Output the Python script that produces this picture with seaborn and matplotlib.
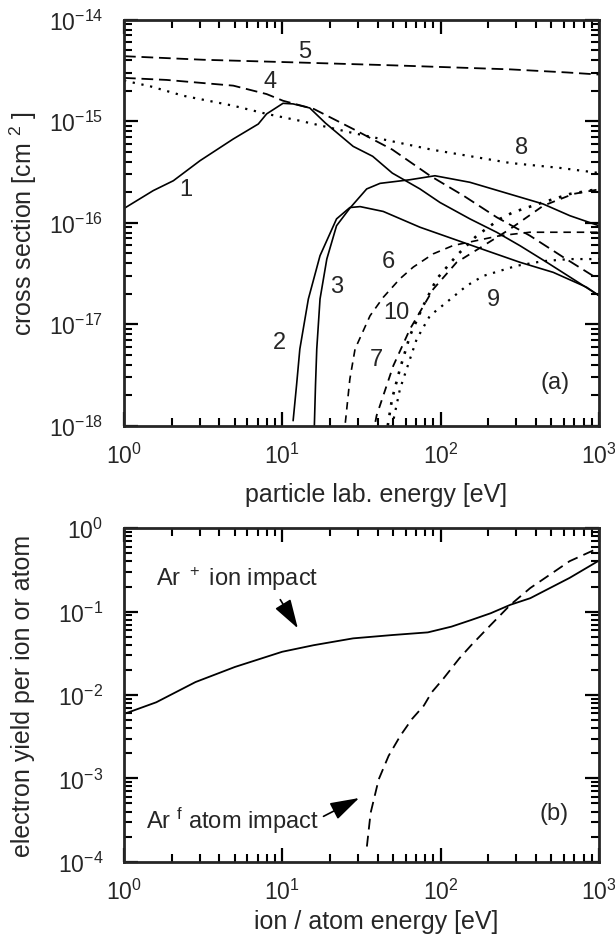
import matplotlib
matplotlib.use("Agg")
import matplotlib.pyplot as plt
import seaborn as sns
import numpy as np
from matplotlib.ticker import LogLocator, LogFormatterSciNotation, NullFormatter

# ---------------- data: panel (a) cross sections [cm^2] vs lab energy [eV]
e1 = [1.0, 1.53, 2.05, 3.02, 4.90, 7.05, 7.96, 10.1, 11.7, 14.9, 18.7, 28.0, 37.2, 49.5,
      74.0, 99.1, 153, 226, 317, 468, 796, 1000]
s1 = [1.38e-16, 2.07e-16, 2.59e-16, 4.08e-16, 6.68e-16, 9.38e-16, 1.18e-15, 1.50e-15,
      1.48e-15, 1.35e-15, 9.6e-16, 5.65e-16, 4.51e-16, 3.08e-16, 2.15e-16, 1.58e-16,
      1.09e-16, 8.04e-17, 5.93e-17, 4.07e-17, 2.40e-17, 1.91e-17]

e2 = [11.7, 12.3, 12.9, 14.6, 17.3, 22.0, 26.7, 31.0, 43.4, 74.0, 120, 195, 317, 514, 836, 1000]
s2 = [1.12e-18, 2.51e-18, 5.69e-18, 1.77e-17, 4.73e-17, 1.09e-16, 1.41e-16, 1.44e-16,
      1.29e-16, 9.02e-17, 6.92e-17, 5.30e-17, 4.07e-17, 3.24e-17, 2.31e-17, 1.91e-17]

e3 = [15.9, 16.2, 16.5, 17.3, 19.1, 22.0, 26.7, 34.1, 41.4, 64.0, 92.0, 153, 248, 443, 656, 1000]
s3 = [8.9e-19, 2.51e-18, 5.70e-18, 1.77e-17, 4.39e-17, 9.33e-17, 1.39e-16, 2.15e-16,
      2.44e-16, 2.65e-16, 2.90e-16, 2.50e-16, 2.00e-16, 1.53e-16, 1.17e-16, 9.33e-17]

e4 = [1, 1.86, 4.90, 7.96, 10.1, 12.6, 15.8, 28.0, 49.5, 85.7, 139, 226, 366, 596, 1000]
s4 = [2.67e-15, 2.55e-15, 2.24e-15, 1.85e-15, 1.59e-15, 1.45e-15, 1.32e-15, 8.38e-16,
      5.25e-16, 2.90e-16, 1.85e-16, 1.13e-16, 7.45e-17, 4.56e-17, 2.75e-17]

e5 = [1, 3.16, 11.7, 50.1, 275, 631, 1000]
s5 = [4.37e-15, 4.03e-15, 3.80e-15, 3.55e-15, 3.24e-15, 3.02e-15, 2.88e-15]

e6 = [24.5, 26.7, 28.8, 35.8, 43.4, 55.3, 67.1, 89.7, 120, 237, 366, 1000]
s6 = [7.9e-19, 2.88e-18, 5.70e-18, 1.21e-17, 1.84e-17, 2.80e-17, 3.65e-17, 4.93e-17,
      5.96e-17, 7.45e-17, 8.05e-17, 8.05e-17]

e7 = [37.2, 39.4, 50.2, 64.0, 89.9, 126, 186, 274, 445, 689, 1000]
s7 = [7.9e-19, 1.26e-18, 3.89e-18, 8.95e-18, 2.22e-17, 4.06e-17, 5.92e-17, 8.65e-17,
      1.47e-16, 1.92e-16, 2.13e-16]

e8 = [1, 1.46, 2.37, 4.90, 7.96, 12.9, 28.0, 87.9, 276, 562, 1000]
s8 = [2.51e-15, 2.21e-15, 1.78e-15, 1.42e-15, 1.18e-15, 1.01e-15, 7.64e-16, 5.24e-16,
      3.87e-16, 3.47e-16, 3.09e-16]

e9 = [47.9, 55.3, 70.5, 85.5, 115, 146, 186, 302, 445, 656, 1000]
s9 = [7.9e-19, 2.29e-18, 7.11e-18, 1.21e-17, 1.76e-17, 2.39e-17, 2.99e-17, 3.76e-17,
      4.18e-17, 4.38e-17, 4.38e-17]

e10 = [45.2, 49.3, 55.3, 64.0, 77.6, 94.4, 126, 169, 237, 288, 445, 656, 1000]
s10 = [7.9e-19, 1.83e-18, 3.62e-18, 7.71e-18, 1.52e-17, 2.79e-17, 4.73e-17, 7.45e-17,
       1.09e-16, 1.27e-16, 1.59e-16, 1.92e-16, 2.15e-16]

curve_labels = ["1", "2", "3", "4", "5", "6", "7", "8", "9", "10"]

# ---------------- data: panel (b) electron yield
e_ion = [1, 1.60, 2.83, 5.02, 9.98, 15.8, 28.0, 49.5, 83.0, 117, 156, 207, 276, 368, 490, 652, 1000]
y_ion = [5.92e-3, 8.18e-3, 1.43e-2, 2.17e-2, 3.30e-2, 3.96e-2, 4.78e-2, 5.24e-2, 5.64e-2,
         6.61e-2, 7.94e-2, 9.57e-2, 0.121, 0.145, 0.192, 0.254, 0.41]
e_atom = [34.2, 36.1, 40.6, 46.9, 55.6, 65.9, 78.3, 87.9, 104, 131, 156, 207, 276, 368, 490, 652, 1000]
y_atom = [1.52e-4, 3.84e-4, 9.70e-4, 1.86e-3, 3.24e-3, 5.15e-3, 7.46e-3, 1.08e-2, 1.57e-2,
          2.74e-2, 3.96e-2, 6.92e-2, 0.121, 0.192, 0.278, 0.403, 0.583]

ion_label = "Ar $^+$ ion impact"
atom_label = "Ar $^{\\mathrm{f}}$ atom impact"

# ---------------- style
sns.set_style("ticks")
plt.rcParams["font.family"] = ["Liberation Sans", "DejaVu Sans"]
plt.rcParams["mathtext.fontset"] = "custom"
plt.rcParams["mathtext.rm"] = "Liberation Sans"
plt.rcParams["mathtext.it"] = "Liberation Sans:italic"
plt.rcParams["mathtext.bf"] = "Liberation Sans:bold"
plt.rcParams["axes.unicode_minus"] = False

TICK_FS = 16.5
LAB_FS = 18
TXT_FS = 17

fig = plt.figure(figsize=(6.15, 9.45), dpi=100)
ax_a = fig.add_axes([0.2016, 0.5485, 0.7724, 0.4296])
ax_b = fig.add_axes([0.2016, 0.0871, 0.7724, 0.3528])

solid = "-"
dash_long = (0, (6.5, 3.2))
dash_med = (0, (4.5, 3.5))
dot = (0, (1.0, 3.0))

series_a = [
    (e1, s1, solid, 1.2),
    (e2, s2, solid, 1.2),
    (e3, s3, solid, 1.2),
    (e4, s4, dash_long, 1.3),
    (e5, s5, dash_long, 1.3),
    (e6, s6, dash_med, 1.2),
    (e7, s7, dash_med, 1.3),
    (e8, s8, dot, 1.6),
    (e9, s9, dot, 1.6),
    (e10, s10, dot, 1.9),
]
for ex, sy, ls, lw in series_a:
    sns.lineplot(x=ex, y=sy, ax=ax_a, color="black", linestyle=ls, linewidth=lw,
                 estimator=None, sort=False)

sns.lineplot(x=e_ion, y=y_ion, ax=ax_b, color="black", linestyle=solid, linewidth=1.3,
             estimator=None, sort=False)
sns.lineplot(x=e_atom, y=y_atom, ax=ax_b, color="black", linestyle=(0, (6, 3.5)),
             linewidth=1.3, estimator=None, sort=False)


def style_axis(ax, ylo, yhi):
    ax.set_xscale("log")
    ax.set_yscale("log")
    ax.set_xlim(1, 1000)
    ax.set_ylim(ylo, yhi)
    for sp in ax.spines.values():
        sp.set_linewidth(2.0)
        sp.set_visible(True)
    for axis in (ax.xaxis, ax.yaxis):
        axis.set_major_locator(LogLocator(base=10, numticks=20))
        axis.set_minor_locator(LogLocator(base=10, subs=np.arange(2, 10), numticks=20))
        axis.set_minor_formatter(NullFormatter())
        axis.set_major_formatter(LogFormatterSciNotation())
    ax.tick_params(which="both", direction="in", top=True, right=True,
                   labelsize=TICK_FS, color="black")
    ax.tick_params(which="major", length=10, width=1.6)
    ax.tick_params(which="minor", length=5.5, width=1.5)
    ax.tick_params(axis="x", which="major", pad=12)
    ax.tick_params(axis="y", which="major", pad=15)
    ax.grid(False)


style_axis(ax_a, 1e-18, 1e-14)
style_axis(ax_b, 1e-4, 1)

ax_a.set_xlabel("particle lab. energy [eV]", fontsize=LAB_FS)
ax_a.set_ylabel("cross section [cm $^2$ ]", fontsize=LAB_FS)
ax_b.set_xlabel("ion / atom energy [eV]", fontsize=LAB_FS)
ax_b.set_ylabel("electron yield per ion or atom", fontsize=LAB_FS)
for ax in (ax_a, ax_b):
    ax.yaxis.label.set_verticalalignment("center")
    ax.xaxis.label.set_verticalalignment("center")
ax_a.xaxis.set_label_coords(0.53, -0.168)
ax_b.xaxis.set_label_coords(0.53, -0.178)
ax_a.yaxis.set_label_coords(-0.212, 0.5)
ax_b.yaxis.set_label_coords(-0.212, 0.5)

# curve labels (axes-fraction positions)
label_pos = [(0.13, 0.583), (0.328, 0.2055), (0.448, 0.345), (0.307, 0.85),
             (0.381, 0.923), (0.556, 0.4065), (0.532, 0.164), (0.838, 0.686),
             (0.778, 0.312), (0.574, 0.279)]
for txt, (px, py) in zip(curve_labels, label_pos):
    ax_a.text(px, py, txt, transform=ax_a.transAxes, fontsize=TXT_FS,
              ha="center", va="center")
ax_a.text(0.907, 0.107, "(a)", transform=ax_a.transAxes, fontsize=TXT_FS,
          ha="center", va="center")

ax_b.text(0.905, 0.146, "(b)", transform=ax_b.transAxes, fontsize=TXT_FS,
          ha="center", va="center")
ax_b.text(0.068, 0.851, ion_label, transform=ax_b.transAxes, fontsize=TXT_FS,
          ha="left", va="center")
ax_b.text(0.047, 0.126, atom_label, transform=ax_b.transAxes, fontsize=TXT_FS,
          ha="left", va="center")
arrow = dict(arrowstyle="-|>,head_length=0.9,head_width=0.28", color="black",
             lw=1.2, mutation_scale=20, shrinkA=0, shrinkB=0)
ax_b.annotate("", xy=(0.366, 0.700), xytext=(0.329, 0.786),
              xycoords="axes fraction", textcoords="axes fraction", arrowprops=arrow)
ax_b.annotate("", xy=(0.495, 0.191), xytext=(0.42, 0.136),
              xycoords="axes fraction", textcoords="axes fraction", arrowprops=arrow)

fig.savefig("out.png", dpi=100)
